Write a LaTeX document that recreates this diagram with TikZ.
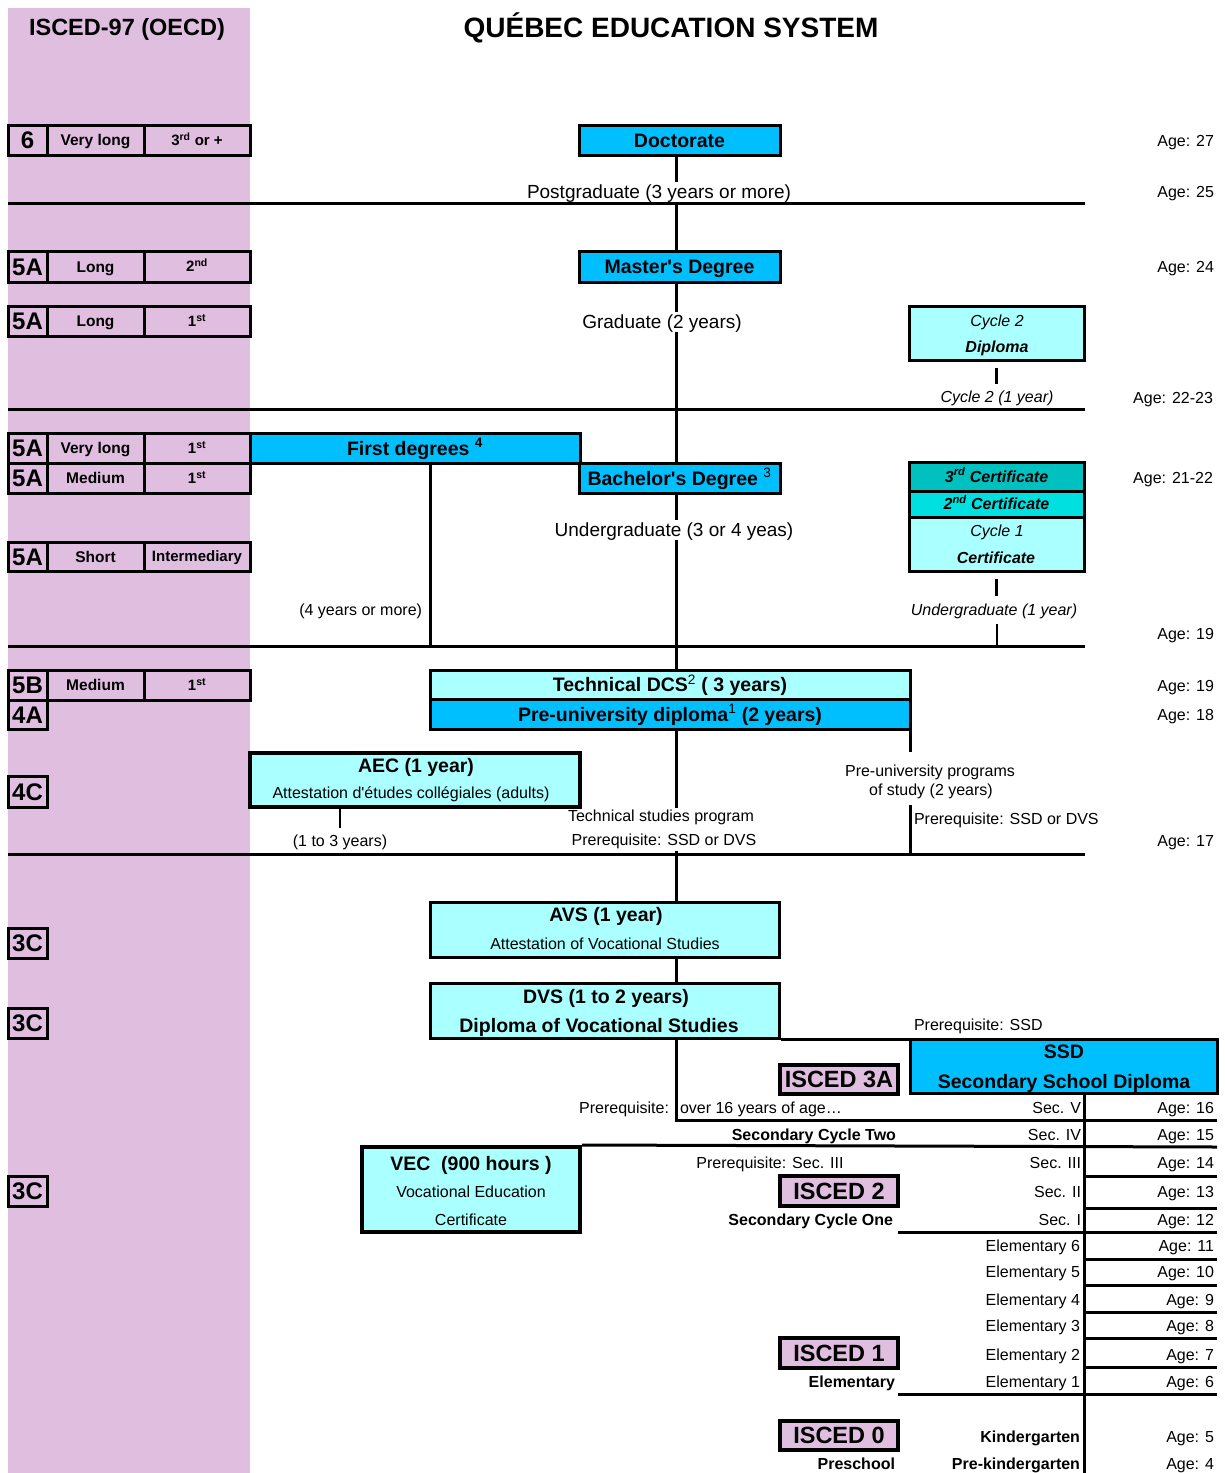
\documentclass[tikz,border=0pt]{standalone}
\usepackage{fontspec}
\setmainfont{Liberation Sans}
\newcommand\fs[1]{\fontsize{#1}{#1}\selectfont}
\newcommand\aq{\textquotesingle}
\definecolor{pinkc}{RGB}{224,190,224}
\definecolor{cyanc}{RGB}{0,191,255}
\definecolor{lcyan}{RGB}{170,255,255}
\definecolor{tealc}{RGB}{0,192,192}
\definecolor{tealb}{RGB}{0,224,224}
\newcommand\rbox[7]{\node[#6, minimum width={#4-#2}, minimum height={#5-#3}] (#1) at ({(#2+#4)/2},{(#3+#5)/2}) {#7};}
\newcommand\isrow[6]{%
\rbox{#1a}{8}{#2}{47}{#3}{cell, txb=24}{#4}
\rbox{#1b}{47}{#2}{144}{#3}{cell, txb=15.5}{#5}
\rbox{#1c}{144}{#2}{250}{#3}{cell, txb=15}{#6}}
\newcommand\sups[1]{\textsuperscript{\mdseries #1}}
\tikzset{
 tx/.style={font=\fs{#1}, text height={0.72*#1}, text depth=0pt, inner sep=0pt, outer sep=0pt},
 txb/.style={tx=#1, font=\bfseries\fs{#1}},
 txi/.style={tx=#1, font=\itshape\fs{#1}},
 txbi/.style={tx=#1, font=\bfseries\itshape\fs{#1}},
 ln/.style={line width=3pt},
 tick/.style={line width=2.5pt},
 cell/.style={draw, line width=3pt},
 cbox/.style={draw, line width=3pt, fill=cyanc},
 lbox/.style={draw, line width=3pt, fill=lcyan},
 ibox/.style={draw, line width=3.5pt, fill=pinkc},
 wt/.style={fill=white, inner ysep=3pt, inner xsep=1pt},
 agel/.style={tx=16, anchor=east},
}
\begin{document}
\begin{tikzpicture}[x=1pt,y=-1pt]
\useasboundingbox (0,0) rectangle (1225,1473);
\fill[white] (0,0) rectangle (1225,1473);
\fill[pinkc] (8,8) rectangle (250,1473);
% dividers
\foreach \yy in {203,409,646,854} \draw[ln] (8,\yy) -- (1085,\yy);
% titles
\node[txb=23.5] (isc) at (127,27) {ISCED-97 (OECD)};
\node[txb=28] (title) at (671,27) {QUÉBEC EDUCATION SYSTEM};
% ISCED table
\isrow{r6}{125}{155}{6}{Very long}{3\textsuperscript{rd} or +}
\isrow{rl2}{251}{282}{5A}{Long}{2\textsuperscript{nd}}
\isrow{rl1}{306}{336}{5A}{Long}{1\textsuperscript{st}}
\isrow{rv}{433}{463}{5A}{Very long}{1\textsuperscript{st}}
\isrow{rm}{463}{493}{5A}{Medium}{1\textsuperscript{st}}
\isrow{rs}{542}{571}{5A}{Short}{Intermediary}
\isrow{rb}{670}{700}{5B}{Medium}{1\textsuperscript{st}}
\rbox{r4a}{8}{700}{47}{729}{cell, txb=24}{4A}
\rbox{r4c}{8}{776}{47}{807}{cell, txb=24}{4C}
\rbox{r3c1}{8}{928}{47}{958}{cell, txb=24}{3C}
\rbox{r3c2}{8}{1008}{47}{1038}{cell, txb=24}{3C}
\rbox{r3c3}{8}{1176}{47}{1206}{cell, txb=24}{3C}
% main boxes
\rbox{doc}{579}{125}{780}{155}{cbox, txb=19.5}{Doctorate}
\rbox{mas}{579}{251}{780}{282}{cbox, txb=19.5}{Master\aq s Degree}
\rbox{fd}{250}{433}{580}{463}{cbox, txb=19.5}{First degrees \textsuperscript{4}}
\rbox{bach}{579}{463}{780}{493}{cbox, txb=19.5}{Bachelor\aq s Degree \sups{3}}
\rbox{c2}{909}{306}{1084}{360}{lbox}{}
\rbox{ct3}{909}{462}{1084}{491}{cell, fill=tealc, txbi=16}{3\textsuperscript{rd} Certificate}
\rbox{ct2}{909}{491}{1084}{517}{cell, fill=tealb, txbi=16}{2\textsuperscript{nd} Certificate}
\rbox{ct1}{909}{517}{1084}{571}{lbox}{}
\rbox{tech}{430}{670}{910}{699}{lbox, txb=19.5}{Technical DCS\sups{2} ( 3 years)}
\rbox{pre}{430}{699}{910}{729}{cbox, txb=19.5}{Pre-university diploma\sups{1} (2 years)}
\rbox{aec}{250}{753}{580}{807}{lbox, line width=4pt}{}
\rbox{avs}{430}{902}{779}{957}{lbox}{}
\rbox{dvs}{430}{983}{779}{1038}{lbox}{}
\rbox{ssd}{910}{1039}{1217}{1093}{cbox}{}
\rbox{vec}{362}{1147}{580}{1232}{lbox, line width=4pt}{}
\rbox{i3a}{780}{1065}{898}{1094}{ibox, txb=23.5}{ISCED 3A}
\rbox{i2}{780}{1176}{898}{1206}{ibox, txb=23.5}{ISCED 2}
\rbox{i1}{780}{1338}{898}{1368}{ibox, txb=23.5}{ISCED 1}
\rbox{i0}{780}{1421}{898}{1450}{ibox, txb=23.5}{ISCED 0}
% connectors
\coordinate (sp) at (676,0);
\draw[ln] (doc.south -| sp) -- (mas.north -| sp);
\draw[ln] (mas.south -| sp) -- (bach.north -| sp);
\draw[ln] (bach.south -| sp) -- (tech.north -| sp);
\coordinate (ts1) at (676,808);
\coordinate (ts2) at (676,851);
\draw[ln] (pre.south -| sp) -- (ts1);
\draw[ln] (ts2) -- (avs.north -| sp);
\draw[ln] (avs.south -| sp) -- (dvs.north -| sp);
\coordinate (c16) at (676,1120);
\coordinate (c16r) at (1217,1120);
\draw[ln] (dvs.south -| sp) -- (c16) -- (c16r);
\coordinate (fdb) at (430,646);
\draw[ln] (fd.south -| fdb) -- (fdb);
\coordinate (pu1) at (910,752);
\coordinate (pu2) at (910,805);
\coordinate (pu3) at (910,854);
\draw[ln] (pre.south east) -- (pu1);
\draw[ln] (pu2) -- (pu3);
\coordinate (aect) at (340,828);
\draw[tick] (aec.south -| aect) -- (aect);
\draw[tick] ([yshift=-6pt]c2.south) -- ([yshift=-22pt]c2.south);
\draw[tick] ([yshift=-6pt]ct1.south) -- ([yshift=-23pt]ct1.south);
\coordinate (ctb) at (997,646);
\draw[tick] ([yshift=22pt]ctb) -- (ctb);
\draw[ln] (dvs.south east) -- (dvs.south east -| ssd.west);
\coordinate (vb) at (1084,1473);
\draw[ln] (ssd.south -| vb) -- (vb);
\coordinate (r14) at (1217,1147);
\draw[ln] (vec.north east) -- (r14);
\foreach \yy in {1176,1208,1259,1285,1312,1338,1367} \draw[ln] (1084,\yy) -- (1217,\yy);
\draw[ln] (898,1232) -- (1217,1232);
\draw[ln] (898,1394) -- (1217,1394);
% texts in boxes
\node[txi=16] (c2a) at (997,321) {Cycle 2};
\node[txbi=16] (c2b) at (997,347) {Diploma};
\node[txi=16] (ct1a) at (997,531) {Cycle 1};
\node[txbi=16] (ct1b) at (996,558) {Certificate};
\node[txb=19.5] (aeca) at (416,765) {AEC (1 year)};
\node[tx=16] (aecb) at (411,793) {Attestation d\aq études collégiales (adults)};
\node[txb=19.5] (avsa) at (606,914) {AVS (1 year)};
\node[tx=16] (avsb) at (605,944) {Attestation of Vocational Studies};
\node[txb=19.5] (dvsa) at (606,996) {DVS (1 to 2 years)};
\node[txb=19.5] (dvsb) at (599,1025) {Diploma of Vocational Studies};
\node[txb=19.5] (ssda) at (1064,1051) {SSD};
\node[txb=19.5] (ssdb) at (1064,1081) {Secondary School Diploma};
\node[txb=19.5] (veca) at (471,1163) {VEC~~(900 hours )};
\node[tx=16] (vecb) at (471,1192) {Vocational Education};
\node[tx=16] (vecc) at (471,1220) {Certificate};
% free texts
\node[tx=19, wt] (pg) at (659,192) {Postgraduate (3 years or more)};
\node[tx=19, wt] (gr) at (662,322) {Graduate (2 years)};
\node[tx=19, wt] (ug) at (674,530) {Undergraduate (3 or 4 yeas)};
\node[tx=16, anchor=east] (fy) at (422,610) {(4 years or more)};
\node[txi=16] (c2y) at (997,397) {Cycle 2 (1 year)};
\node[txi=16] (ug1) at (994,610) {Undergraduate (1 year)};
\node[tx=16] (pup1) at (930,771) {Pre-university programs};
\node[tx=16] (pup2) at (931,790) {of study (2 years)};
\node[tx=16, anchor=west] (pupr) at (914,819) {Prerequisite: SSD or DVS};
\node[tx=16] (tsp) at (661,816) {Technical studies program};
\node[tx=16] (tspr) at (664,840) {Prerequisite: SSD or DVS};
\node[tx=16] (aecy) at (340,841) {(1 to 3 years)};
\node[tx=16, anchor=west] (prssd) at (914,1025) {Prerequisite: SSD};
\node[tx=16, anchor=east] (pr16) at (669,1108) {Prerequisite:};
\node[tx=16, anchor=west] (o16) at (680,1108) {over 16 years of age…};
\node[txb=16, anchor=east] (sc2) at (896,1135) {Secondary Cycle Two};
\node[tx=16] (prs3) at (770,1163) {Prerequisite: Sec. III};
\node[txb=16, anchor=east] (sc1) at (893,1220) {Secondary Cycle One};
\node[txb=16, anchor=east] (elt) at (895,1382) {Elementary};
\node[txb=16, anchor=east] (psc) at (895,1464) {Preschool};
\node[txb=16, anchor=east] (kg) at (1080,1437) {Kindergarten};
\node[txb=16, anchor=east] (pkg) at (1080,1464) {Pre-kindergarten};
% grade labels
\node[agel] (g5) at (1081,1108) {Sec. V};
\node[agel] (g4) at (1081,1135) {Sec. IV};
\node[agel] (g3) at (1081,1163) {Sec. III};
\node[agel] (g2) at (1081,1192) {Sec. II};
\node[agel] (g1) at (1081,1220) {Sec. I};
\node[agel] (e6) at (1080,1246) {Elementary 6};
\node[agel] (e5) at (1080,1272) {Elementary 5};
\node[agel] (e4) at (1080,1300) {Elementary 4};
\node[agel] (e3) at (1080,1326) {Elementary 3};
\node[agel] (e2) at (1080,1355) {Elementary 2};
\node[agel] (e1) at (1080,1382) {Elementary 1};
% ages
\node[agel] (a27) at (1214,141) {Age: 27};
\node[agel] (a25) at (1214,192) {Age: 25};
\node[agel] (a24) at (1214,267) {Age: 24};
\node[agel] (a2223) at (1213,398) {Age: 22-23};
\node[agel] (a2122) at (1213,478) {Age: 21-22};
\node[agel] (a19a) at (1214,634) {Age: 19};
\node[agel] (a19b) at (1214,686) {Age: 19};
\node[agel] (a18) at (1214,715) {Age: 18};
\node[agel] (a17) at (1214,841) {Age: 17};
\node[agel] (a16) at (1214,1108) {Age: 16};
\node[agel] (a15) at (1214,1135) {Age: 15};
\node[agel] (a14) at (1214,1163) {Age: 14};
\node[agel] (a13) at (1214,1192) {Age: 13};
\node[agel] (a12) at (1214,1220) {Age: 12};
\node[agel] (a11) at (1214,1246) {Age: 11};
\node[agel] (a10) at (1214,1272) {Age: 10};
\node[agel] (a9) at (1214,1300) {Age: 9};
\node[agel] (a8) at (1214,1326) {Age: 8};
\node[agel] (a7) at (1214,1355) {Age: 7};
\node[agel] (a6) at (1214,1382) {Age: 6};
\node[agel] (a5) at (1214,1437) {Age: 5};
\node[agel] (a4) at (1214,1464) {Age: 4};
\end{tikzpicture}
\end{document}
